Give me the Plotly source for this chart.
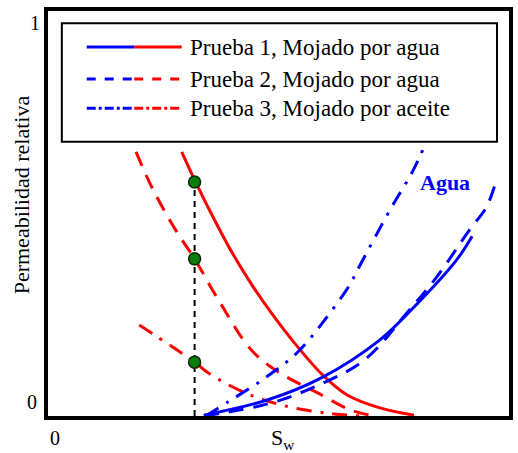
import plotly.graph_objects as go

# Relative permeability curves (Sw fraction, kr fraction)
sw_kro_1 = [0.290, 0.320, 0.359, 0.402, 0.445, 0.488, 0.542, 0.596, 0.649, 0.720, 0.794]
kro_1 = [0.652, 0.578, 0.489, 0.398, 0.319, 0.249, 0.170, 0.101, 0.052, 0.020, 0.002]

sw_kro_2 = [0.191, 0.226, 0.277, 0.318, 0.370, 0.441, 0.499, 0.585, 0.656, 0.699]
kro_2 = [0.652, 0.563, 0.459, 0.388, 0.286, 0.163, 0.109, 0.057, 0.015, 0.002]

sw_kro_3 = [0.198, 0.318, 0.348, 0.428, 0.514, 0.606, 0.682]
kro_3 = [0.225, 0.133, 0.106, 0.057, 0.025, 0.007, 0.0]

sw_krw_1 = [0.338, 0.477, 0.596, 0.720, 0.794, 0.886, 0.920]
krw_1 = [0.002, 0.040, 0.096, 0.188, 0.269, 0.385, 0.444]

sw_krw_2 = [0.338, 0.477, 0.578, 0.686, 0.778, 0.843, 0.914, 0.951, 0.972]
krw_2 = [0.0, 0.030, 0.072, 0.138, 0.254, 0.343, 0.459, 0.516, 0.580]

sw_krw_3 = [0.342, 0.391, 0.471, 0.542, 0.600, 0.654, 0.671, 0.742, 0.789, 0.817]
krw_3 = [0.0, 0.035, 0.094, 0.158, 0.237, 0.323, 0.360, 0.509, 0.600, 0.667]

# Common saturation where kro of the three tests is compared
sw_ref = 0.318
kro_ref = [0.578, 0.388, 0.133]

legend_labels = [
    "Prueba 1, Mojado por agua",
    "Prueba 2, Mojado por agua",
    "Prueba 3, Mojado por aceite",
]

BLUE = "#0000ff"
RED = "#ff0000"
SERIF = "Liberation Serif"
DASH = "15px,10px"
DASHDOT = "15px,9px,3px,9px"

fig = go.Figure()

def curve(x, y, color, dash):
    fig.add_trace(go.Scatter(
        x=x, y=y, mode="lines", line_shape="spline",
        line=dict(color=color, width=3, dash=dash),
        showlegend=False, hoverinfo="skip"))

curve(sw_kro_1, kro_1, RED, "solid")
curve(sw_kro_2, kro_2, RED, DASH)
curve(sw_kro_3, kro_3, RED, DASHDOT)
curve(sw_krw_1, krw_1, BLUE, "solid")
curve(sw_krw_2, krw_2, BLUE, DASH)
curve(sw_krw_3, krw_3, BLUE, DASHDOT)

# Vertical reference line and the three kro points on it
fig.add_trace(go.Scatter(
    x=[sw_ref, sw_ref], y=[0, max(kro_ref)], mode="lines",
    line=dict(color="black", width=2, dash="6px,5px"),
    showlegend=False, hoverinfo="skip"))
fig.add_trace(go.Scatter(
    x=[sw_ref] * len(kro_ref), y=kro_ref, mode="markers",
    marker=dict(size=12, color="#0a7d0a", line=dict(color="#0b2a0b", width=1.5)),
    showlegend=False, hoverinfo="skip"))

# Hand-drawn legend: box, two-coloured samples and labels
shapes = [dict(type="rect", xref="paper", yref="paper",
               x0=0.030, x1=0.974, y0=0.677, y1=0.970,
               line=dict(color="black", width=2), fillcolor="white", layer="below")]
row_y = [0.911, 0.832, 0.760]
dashes = ["solid", "dash", "dashdot"]
annotations = []
for yy, lab, dsh in zip(row_y, legend_labels, dashes):
    for x0, x1, col in [(0.084, 0.187, BLUE), (0.187, 0.290, RED)]:
        shapes.append(dict(type="line", xref="paper", yref="paper",
                           x0=x0, x1=x1, y0=yy, y1=yy,
                           line=dict(color=col, width=3, dash=dsh)))
    annotations.append(dict(xref="paper", yref="paper", x=0.303, y=yy,
                            text=lab, showarrow=False, xanchor="left", yanchor="middle",
                            font=dict(family=SERIF, size=23, color="black")))

annotations += [
    dict(xref="paper", yref="paper", x=0.862, y=0.577, text="<b>Agua</b>",
         showarrow=False, xanchor="center", yanchor="middle",
         font=dict(family=SERIF, size=22, color=BLUE)),
    dict(xref="paper", yref="paper", x=-0.012, y=0.970, text="1", showarrow=False,
         xanchor="right", yanchor="middle", font=dict(family=SERIF, size=20, color="black")),
    dict(xref="paper", yref="paper", x=-0.020, y=0.035, text="0", showarrow=False,
         xanchor="right", yanchor="middle", font=dict(family=SERIF, size=20, color="black")),
    dict(xref="paper", yref="paper", x=0.016, y=-0.054, text="0", showarrow=False,
         xanchor="center", yanchor="middle", font=dict(family=SERIF, size=20, color="black")),
    dict(xref="paper", yref="paper", x=0.510, y=-0.057, text="S<sub>w</sub>", showarrow=False,
         xanchor="center", yanchor="middle", font=dict(family=SERIF, size=22, color="black")),
    dict(xref="paper", yref="paper", x=-0.027, y=0.545, text="Permeabilidad relativa",
         textangle=-90, showarrow=False, xanchor="right", yanchor="middle",
         font=dict(family=SERIF, size=22, color="black")),
]

fig.update_layout(
    width=518, height=453,
    margin=dict(l=48, r=5, t=11, b=37),
    paper_bgcolor="white", plot_bgcolor="white",
    font=dict(family=SERIF),
    shapes=shapes, annotations=annotations,
    xaxis=dict(range=[0, 1], showgrid=False, zeroline=False, showticklabels=False,
               ticks="", showline=True, linecolor="black", linewidth=4, mirror=True),
    yaxis=dict(range=[0, 1], showgrid=False, zeroline=False, showticklabels=False,
               ticks="", showline=True, linecolor="black", linewidth=4, mirror=True),
)

fig.write_html("out.html")
